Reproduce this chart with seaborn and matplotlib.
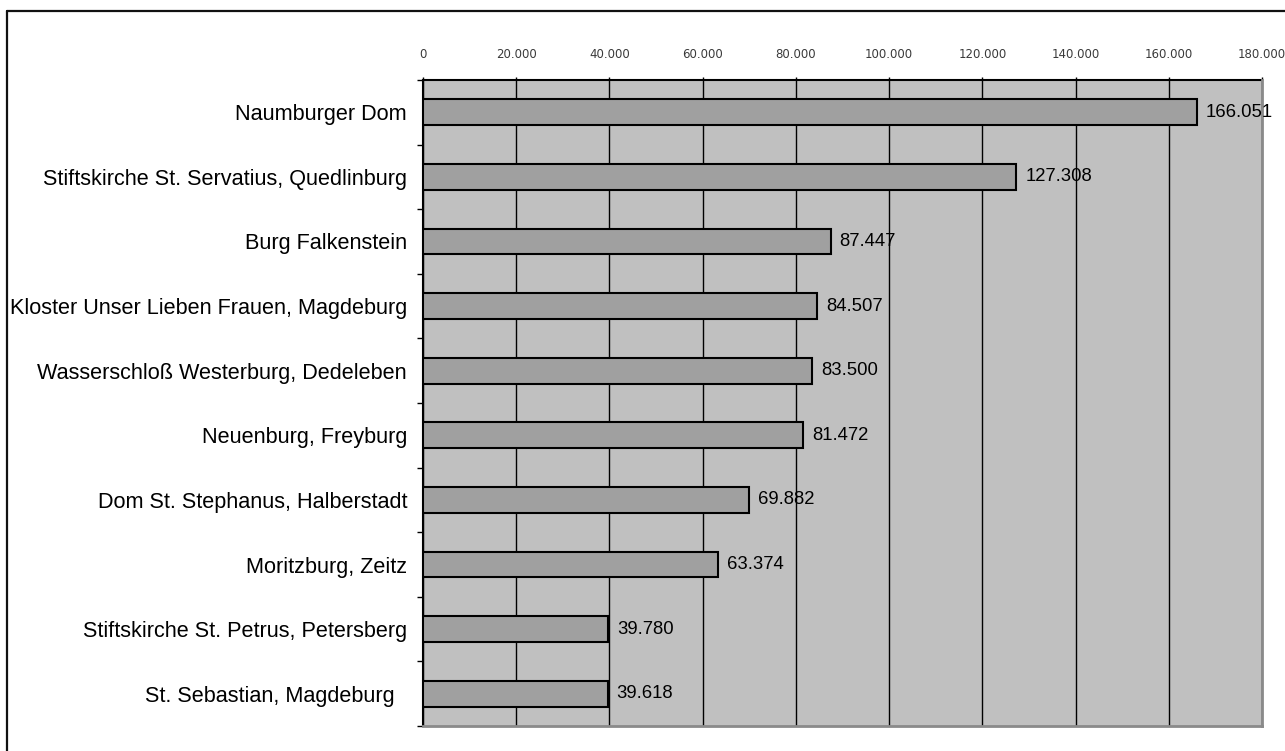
import matplotlib
matplotlib.use("Agg")
import matplotlib.pyplot as plt
import numpy as np
import pandas as pd
import seaborn as sns
from matplotlib.lines import Line2D
from matplotlib.ticker import FuncFormatter, FixedLocator

# Visitors per site
sites = [
    "Naumburger Dom",
    "Stiftskirche St. Servatius, Quedlinburg",
    "Burg Falkenstein",
    "Kloster Unser Lieben Frauen, Magdeburg",
    "Wasserschloß Westerburg, Dedeleben",
    "Neuenburg, Freyburg",
    "Dom St. Stephanus, Halberstadt",
    "Moritzburg, Zeitz",
    "Stiftskirche St. Petrus, Petersberg",
    "St. Sebastian, Magdeburg  ",
]
visitors = [166051, 127308, 87447, 84507, 83500, 81472, 69882, 63374, 39780, 39618]
x_ticks = list(range(0, 180001, 20000))


def german(v):
    return f"{int(round(v)):,}".replace(",", ".")


sns.set_theme(style="white")
plt.rcParams["font.family"] = ["Liberation Sans", "DejaVu Sans"]

W, H = 1285, 751
fig = plt.figure(figsize=(W / 100, H / 100), dpi=100)
fig.patch.set_facecolor("white")

ax = fig.add_axes([423 / W, 1 - 726 / H, 839 / W, 646 / H])
ax.set_facecolor("#c0c0c0")

df = pd.DataFrame({"site": sites, "visitors": visitors})
sns.barplot(
    data=df, x="visitors", y="site", orient="h",
    color="#a0a0a0", saturation=1, width=0.4,
    edgecolor="black", linewidth=1.5, ax=ax, zorder=3,
)

ax.set_xlim(0, 180000)
ax.set_ylim(len(sites) - 0.5, -0.5)
ax.set_xlabel("")
ax.set_ylabel("")

# vertical gridlines behind the bars
ax.set_axisbelow(True)
ax.xaxis.set_major_locator(FixedLocator(x_ticks))
ax.xaxis.grid(True, color="black", linewidth=1.0, zorder=0)
ax.yaxis.grid(False)

# value axis on top
ax.xaxis.tick_top()
ax.xaxis.set_major_formatter(FuncFormatter(lambda v, p: german(v)))
ax.tick_params(axis="x", which="major", top=True, bottom=False, length=2.5,
               width=1, color="black", pad=11.5, labelsize=8.5, labelcolor="#3a3a3a",
               direction="out")
for lbl in ax.get_xticklabels():
    lbl.set_fontfamily("DejaVu Sans")

# category ticks at the boundaries between bars
ax.yaxis.set_minor_locator(FixedLocator(np.arange(-0.5, len(sites), 1.0)))
ax.tick_params(axis="y", which="minor", left=True, length=4.5, width=1,
               color="black", direction="out")
ax.tick_params(axis="y", which="major", left=True, length=0, pad=11.5,
               labelsize=15.6, labelcolor="black")

# frame of the plot area
ax.spines["top"].set_color("black")
ax.spines["top"].set_linewidth(1.5)
ax.spines["left"].set_color("black")
ax.spines["left"].set_linewidth(1.5)
for side in ("right", "bottom"):
    ax.spines[side].set_color("#8a8a8a")
    ax.spines[side].set_linewidth(2.0)
    ax.spines[side].set_zorder(4)

# value labels next to each bar
ax.bar_label(ax.containers[0], labels=[german(v) for v in visitors],
             padding=6.5, fontsize=13.3, color="black", zorder=5)

# outer chart border
fig.add_artist(Line2D([7 / W, 7 / W], [0, 1 - 10.5 / H], transform=fig.transFigure,
                      color="#111111", linewidth=1.6))
fig.add_artist(Line2D([7 / W, 1], [1 - 10.5 / H, 1 - 10.5 / H], transform=fig.transFigure,
                      color="#111111", linewidth=1.6))

fig.savefig("out.png", dpi=100, facecolor="white")
